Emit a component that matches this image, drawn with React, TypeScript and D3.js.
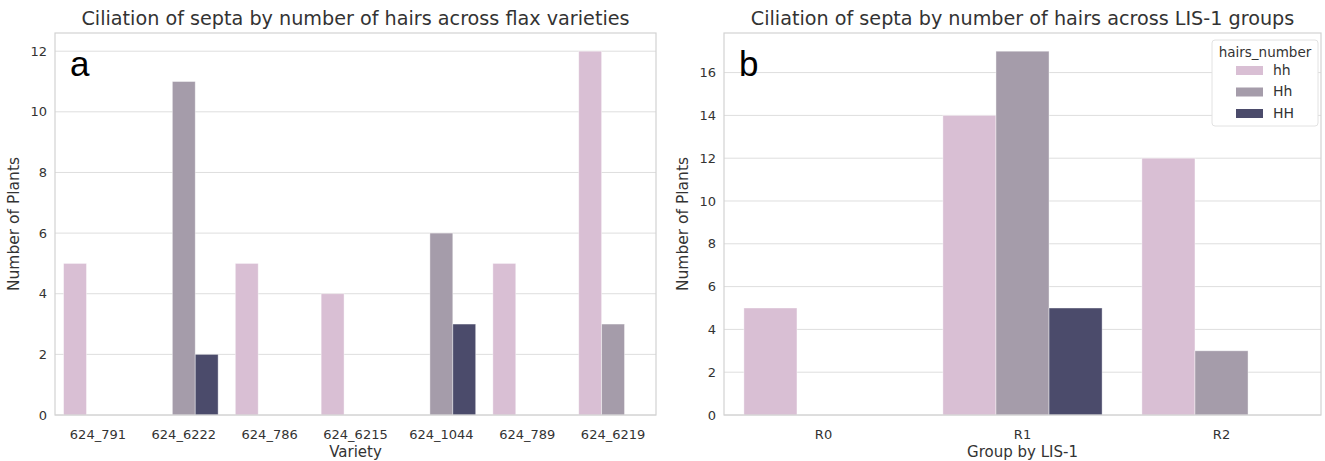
import React from 'react';
import * as d3 from 'd3';

// chart data
const varieties = ['624_791', '624_6222', '624_786', '624_6215', '624_1044', '624_789', '624_6219'];
const varietyHh = [5, 0, 5, 4, 0, 5, 12];
const varietyHhMixed = [0, 11, 0, 0, 6, 0, 3];
const varietyHH = [0, 2, 0, 0, 3, 0, 0];

const groups = ['R0', 'R1', 'R2'];
const groupHh = [5, 14, 12];
const groupHhMixed = [0, 17, 3];
const groupHH = [0, 5, 0];

const hueNames = ['hh', 'Hh', 'HH'];
const hueColors = ['#d9bfd4', '#a59caa', '#4b4b6b'];

const FONT = 'DejaVu Sans, sans-serif';

type PanelProps = {
  x0: number;
  x1: number;
  y0: number;
  y1: number;
  cats: string[];
  series: number[][];
  yMax: number;
  yTicks: number[];
  title: string;
  xLabel: string;
  letter: string;
  legend?: boolean;
};

function Panel({ x0, x1, y0, y1, cats, series, yMax, yTicks, title, xLabel, letter, legend }: PanelProps) {
  const x = d3.scaleBand().domain(cats).range([x0, x1]).paddingInner(0).paddingOuter(0);
  const y = d3.scaleLinear().domain([0, yMax * 1.05]).range([y1, y0]);
  const groupW = x.bandwidth() * 0.8;
  const hue = d3.scaleBand().domain(hueNames).range([0, groupW]);

  return (
    <g>
      {/* grid */}
      {yTicks.map(t => (
        <line key={'g' + t} x1={x0} x2={x1} y1={y(t)} y2={y(t)} stroke="#dedede" strokeWidth={1} />
      ))}
      {/* bars */}
      {series.map((vals, si) =>
        vals.map((v, ci) =>
          v > 0 ? (
            <rect
              key={si + '-' + ci}
              x={(x(cats[ci]) as number) + x.bandwidth() * 0.1 + (hue(hueNames[si]) as number)}
              y={y(v)}
              width={hue.bandwidth()}
              height={y(0) - y(v)}
              fill={hueColors[si]}
              stroke="#ffffff"
              strokeOpacity={0.5}
              strokeWidth={0.8}
            />
          ) : null
        )
      )}
      {/* frame */}
      <rect x={x0} y={y0} width={x1 - x0} height={y1 - y0} fill="none" stroke="#d2d2d2" strokeWidth={1.2} />
      {/* y ticks */}
      {yTicks.map(t => (
        <text key={'t' + t} x={x0 - 8} y={y(t)} dy="0.35em" textAnchor="end" fontSize={13} fill="#333" fontFamily={FONT}>
          {t}
        </text>
      ))}
      {/* x ticks */}
      {cats.map(c => (
        <text key={c} x={(x(c) as number) + x.bandwidth() / 2} y={y1 + 24} textAnchor="middle" fontSize={13} fill="#333" fontFamily={FONT}>
          {c}
        </text>
      ))}
      <text x={(x0 + x1) / 2} y={y1 + 42} textAnchor="middle" fontSize={15} fill="#333" fontFamily={FONT}>
        {xLabel}
      </text>
      <text
        transform={`translate(${x0 - 36},${(y0 + y1) / 2}) rotate(-90)`}
        textAnchor="middle"
        fontSize={15.5}
        fill="#333"
        fontFamily={FONT}
      >
        Number of Plants
      </text>
      <text x={(x0 + x1) / 2} y={y0 - 8} textAnchor="middle" fontSize={19.2} fill="#333" fontFamily={FONT}>
        {title}
      </text>
      <text x={x0 + 15} y={y0 + 43} fontSize={35} fill="#000" fontFamily="Liberation Sans, Arial, sans-serif">
        {letter}
      </text>
      {legend && (
        <g transform={`translate(${x1 - 109},${y0 + 7})`}>
          <rect x={0} y={0} width={106} height={86} rx={3} fill="#fff" stroke="#e2e2e2" />
          <text x={53} y={17} textAnchor="middle" fontSize={13.5} fill="#333" fontFamily={FONT}>
            hairs_number
          </text>
          {hueNames.map((h, i) => (
            <g key={h} transform={`translate(0,${30 + i * 21.5})`}>
              <rect x={24} y={-4} width={27} height={9} fill={hueColors[i]} />
              <text x={61} y={0} dy="0.35em" fontSize={14} fill="#333" fontFamily={FONT}>
                {h}
              </text>
            </g>
          ))}
        </g>
      )}
    </g>
  );
}

export default function App() {
  return (
    <svg
      width={1325}
      height={461}
      style={{ position: 'absolute', left: 0, top: 0, background: '#fff' }}
    >
      <Panel
        x0={55}
        x1={656}
        y0={33}
        y1={415}
        cats={varieties}
        series={[varietyHh, varietyHhMixed, varietyHH]}
        yMax={12}
        yTicks={[0, 2, 4, 6, 8, 10, 12]}
        title="Ciliation of septa by number of hairs across flax varieties"
        xLabel="Variety"
        letter="a"
      />
      <Panel
        x0={724}
        x1={1321}
        y0={33}
        y1={415}
        cats={groups}
        series={[groupHh, groupHhMixed, groupHH]}
        yMax={17}
        yTicks={[0, 2, 4, 6, 8, 10, 12, 14, 16]}
        title="Ciliation of septa by number of hairs across LIS-1 groups"
        xLabel="Group by LIS-1"
        letter="b"
        legend
      />
    </svg>
  );
}
